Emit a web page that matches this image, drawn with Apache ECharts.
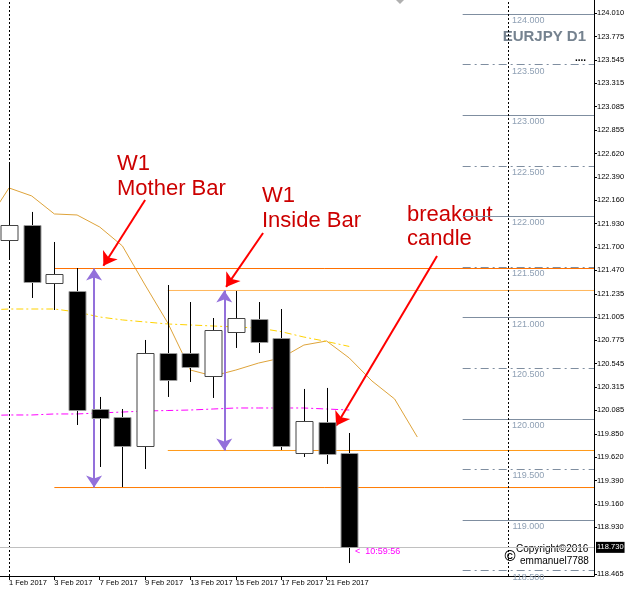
<!DOCTYPE html>
<html>
<head>
<meta charset="utf-8">
<script src="https://cdn.jsdelivr.net/npm/echarts@6/dist/echarts.min.js"></script>
<style>
  html, body { margin: 0; padding: 0; background: #fff; overflow: hidden; }
  #chart { width: 625px; height: 591px; }
</style>
</head>
<body>
<div id="chart"></div>
<script>
// daily candles, index 0 = 1 Feb 2017
const candleIdx = [0, 1, 2, 3, 4, 5, 6, 7, 8, 9, 10, 11, 12, 13, 14, 15]
const opens  = [121.767, 121.915, 121.342, 121.263, 120.097, 120.018, 119.731, 120.650, 120.650, 120.423, 120.858, 120.986, 120.799, 119.662, 119.969, 119.662]
const closes = [121.915, 121.352, 121.431, 120.087, 120.008, 119.731, 120.650, 120.384, 120.512, 120.878, 120.996, 120.759, 119.731, 119.978, 119.652, 118.733]
const lows   = [121.589, 121.194, 121.075, 119.939, 119.524, 119.326, 119.504, 120.216, 120.364, 120.206, 120.700, 120.650, 119.692, 119.623, 119.554, 118.575]
const highs  = [122.528, 122.044, 121.747, 121.490, 120.216, 120.097, 120.779, 121.322, 121.154, 120.996, 121.263, 121.154, 121.085, 120.295, 120.305, 119.860]

// moving averages (index -1 .. n)
const maTanIdx = [-1, 0, 1, 2, 3, 4, 5, 6, 7, 8, 9, 10, 11, 12, 13, 14, 15, 16, 17, 18]
const maTan = [121.935, 122.281, 122.202, 122.024, 122.014, 121.895, 121.708, 121.322, 120.947, 120.482, 120.423, 120.482, 120.551, 120.601, 120.729, 120.769, 120.601, 120.374, 120.196, 119.820]
const maIdx = [-1, 0, 1, 2, 3, 4, 5, 6, 7, 8, 9, 10, 11, 12, 13, 14, 15]
const maGold = [121.075, 121.085, 121.085, 121.085, 121.055, 121.006, 120.977, 120.957, 120.937, 120.927, 120.917, 120.907, 120.897, 120.861, 120.808, 120.764, 120.715]
const maPink = [120.033, 120.038, 120.038, 120.048, 120.048, 120.058, 120.067, 120.077, 120.082, 120.087, 120.097, 120.107, 120.107, 120.107, 120.107, 120.097, 120.087]

// weekly mother / inside bar levels
const motherHigh = 121.485
const motherLow = 119.321
const insideHigh = 121.268
const insideLow = 119.687
const motherStart = 2
const insideStart = 7
const currentPrice = 118.730

const roundLevels = [124.0, 123.5, 123.0, 122.5, 122.0, 121.5, 121.0, 120.5, 120.0, 119.5, 119.0, 118.5]
const priceTicks = [124.010, 123.775, 123.545, 123.315, 123.085, 122.855, 122.620, 122.390, 122.160, 121.930, 121.700, 121.470, 121.235, 121.005, 120.775, 120.545, 120.315, 120.085, 119.850, 119.620, 119.390, 119.160, 118.930, 118.465]
const dateTickIdx = [0, 2, 4, 6, 8, 10, 12, 14]
const dateLabels = ['1 Feb 2017', '3 Feb 2017', '7 Feb 2017', '9 Feb 2017', '13 Feb 2017', '15 Feb 2017', '17 Feb 2017', '21 Feb 2017']
const separatorIdx = [0, 22]

const X_MIN = -0.397
const X_MAX = 25.79
const sans = "'Liberation Sans', Arial, sans-serif"

const candleData = candleIdx.map((i, k) => [i, opens[k], closes[k], lows[k], highs[k]])

function renderCandle(params, api) {
  const i = api.value(0), o = api.value(1), c = api.value(2), l = api.value(3), h = api.value(4)
  const top = api.coord([i, Math.max(o, c)])
  const bot = api.coord([i, Math.min(o, c)])
  const hi = api.coord([i, h])
  const lo = api.coord([i, l])
  const w = Math.round(api.size([1, 0])[0] * 0.74)
  const cx = Math.round(top[0]) + 0.5
  const bull = c >= o
  const y1 = Math.round(top[1]) + 0.5
  const y2 = Math.round(bot[1]) + 0.5
  return {
    type: 'group',
    children: [
      { type: 'line', shape: { x1: cx, y1: hi[1], x2: cx, y2: lo[1] }, style: { stroke: '#000', lineWidth: 1 } },
      {
        type: 'rect',
        shape: { x: Math.round(cx - w / 2), y: y1, width: w, height: Math.max(1, y2 - y1) },
        style: { fill: bull ? '#fff' : '#000', stroke: bull ? '#444' : '#9a9a9a', lineWidth: 1 }
      }
    ]
  }
}

// weekly level as a plain two-point line series
function levelSeries(name, from, value, color) {
  return {
    name: name, type: 'line', data: [[from, value], [X_MAX, value]],
    symbol: 'none', silent: true, z: 4,
    lineStyle: { color: color, width: 1, type: 'solid' }
  }
}

const roundLines = roundLevels.map(v => [
  {
    coord: [20, v],
    lineStyle: { color: '#7f8ea0', width: 1, type: (v % 1 === 0) ? 'solid' : [8, 4, 2, 4] },
    label: {
      show: true, position: 'insideMiddleBottom', distance: 2,
      formatter: v.toFixed(3), color: '#8fa0b4', fontSize: 9, fontFamily: sans
    }
  },
  { coord: [X_MAX, v] }
])

const separators = separatorIdx.map(i => ({ xAxis: i, lineStyle: { color: '#000', type: [2, 2], width: 1 } }))

const redArrow = (x1, y1, x2, y2) => [
  { coord: [x1, y1], symbol: 'none', lineStyle: { color: '#ff0000', width: 2, type: 'solid' } },
  { coord: [x2, y2], symbol: 'arrow', symbolSize: 13 }
]
const purpleArrow = (x, y1, y2) => [
  { coord: [x, y1], symbol: 'arrow', symbolSize: 12, lineStyle: { color: '#9370db', width: 2, type: 'solid' } },
  { coord: [x, y2], symbol: 'arrow', symbolSize: 12 }
]

const chart = echarts.init(document.getElementById('chart'))
chart.setOption({
  animation: false,
  backgroundColor: '#fff',
  grid: { left: 0, top: 0, right: 31, bottom: 15, outerBoundsMode: 'none', containLabel: false },
  xAxis: {
    type: 'value', min: X_MIN, max: X_MAX,
    splitLine: { show: false },
    axisLine: { onZero: false, lineStyle: { color: '#000', width: 1 } },
    axisTick: { show: true, customValues: dateTickIdx, length: 4, lineStyle: { color: '#000' } },
    axisLabel: {
      customValues: dateTickIdx, align: 'left', margin: 3,
      color: '#000', fontSize: 7.5, fontFamily: sans,
      formatter: v => dateLabels[dateTickIdx.indexOf(v)] || ''
    }
  },
  yAxis: {
    type: 'value', position: 'right', min: 118.447, max: 124.138,
    splitLine: { show: false },
    axisLine: { show: true, onZero: false, lineStyle: { color: '#000', width: 1 } },
    axisTick: { show: true, customValues: priceTicks, length: 3, lineStyle: { color: '#000' } },
    axisLabel: {
      customValues: priceTicks, margin: 3,
      color: '#000', fontSize: 7.5, fontFamily: sans,
      formatter: v => v.toFixed(3)
    }
  },
  series: [
    {
      name: 'levels', type: 'line', data: [], silent: true,
      markLine: {
        silent: true, symbol: 'none', animation: false,
        label: { show: false },
        data: [
          ...roundLines,
          ...separators,
          {
            yAxis: currentPrice,
            lineStyle: { color: '#c0c0c0', type: 'solid', width: 1 },
            label: {
              show: true, position: 'end', distance: 2,
              formatter: currentPrice.toFixed(3),
              color: '#fff', backgroundColor: '#000', padding: [2, 1, 1, 1],
              fontSize: 7.5, fontFamily: sans
            }
          }
        ]
      }
    },
    levelSeries('mother high', motherStart, motherHigh, '#ff7000'),
    levelSeries('inside high', insideStart, insideHigh, '#ffb65c'),
    levelSeries('inside low', insideStart, insideLow, '#ff9a1a'),
    levelSeries('mother low', motherStart, motherLow, '#ff7a00'),
    {
      name: 'MA tan', type: 'line', data: maTanIdx.map((i, k) => [i, maTan[k]]),
      symbol: 'none', lineStyle: { color: '#dea33a', width: 1 }, clip: true
    },
    {
      name: 'MA gold', type: 'line', data: maIdx.map((i, k) => [i, maGold[k]]),
      symbol: 'none', lineStyle: { color: '#ffd200', width: 1, type: [7, 3, 2, 3] }, clip: true
    },
    {
      name: 'MA pink', type: 'line', data: maIdx.map((i, k) => [i, maPink[k]]),
      symbol: 'none', lineStyle: { color: '#ff00ff', width: 1, type: [7, 3, 2, 3] }, clip: true
    },
    {
      name: 'candles', type: 'custom', renderItem: renderCandle,
      data: candleData, encode: { x: 0, y: [1, 2, 3, 4] }, z: 5
    },
    {
      name: 'arrows', type: 'line', data: [], silent: true, z: 6,
      markLine: {
        silent: true, animation: false, label: { show: false },
        data: [
          purpleArrow(3.75, motherHigh, motherLow),
          purpleArrow(9.49, insideHigh, insideLow),
          redArrow(6.0, 122.162, 4.16, 121.513),
          redArrow(11.2, 121.836, 9.57, 121.303),
          redArrow(18.87, 121.609, 14.42, 119.932)
        ]
      }
    }
  ],
  graphic: [
    { type: 'polygon', shape: { points: [[396, 0], [404, 0], [400, 4]] }, style: { fill: '#b0b0b0' } },
    { type: 'text', x: 117, y: 164, style: { text: 'W1', font: '22px ' + sans, fill: '#cc0000', verticalAlign: 'middle' } },
    { type: 'text', x: 117, y: 189, style: { text: 'Mother Bar', font: '22px ' + sans, fill: '#cc0000', verticalAlign: 'middle' } },
    { type: 'text', x: 262, y: 196, style: { text: 'W1', font: '22px ' + sans, fill: '#cc0000', verticalAlign: 'middle' } },
    { type: 'text', x: 262, y: 221, style: { text: 'Inside Bar', font: '22px ' + sans, fill: '#cc0000', verticalAlign: 'middle' } },
    { type: 'text', x: 407, y: 215, style: { text: 'breakout', font: '22px ' + sans, fill: '#cc0000', verticalAlign: 'middle' } },
    { type: 'text', x: 407, y: 239, style: { text: 'candle', font: '22px ' + sans, fill: '#cc0000', verticalAlign: 'middle' } },
    { type: 'text', x: 586, y: 37, style: { text: 'EURJPY D1', font: 'bold 15px ' + sans, fill: '#75828f', align: 'right', verticalAlign: 'middle' } },
    { type: 'text', x: 586, y: 58, style: { text: '....', font: 'bold 10px ' + sans, fill: '#000', align: 'right', verticalAlign: 'middle' } },
    { type: 'text', x: 355, y: 552, style: { text: '<  10:59:56', font: '9px ' + sans, fill: '#ff00ff', verticalAlign: 'middle' } },
    { type: 'text', x: 510, y: 557, style: { text: '©', font: 'bold 15px ' + sans, fill: '#000', align: 'center', verticalAlign: 'middle' } },
    { type: 'text', x: 516, y: 549, style: { text: 'Copyright©2016', font: '10px ' + sans, fill: '#000', verticalAlign: 'middle' } },
    { type: 'text', x: 520, y: 561, style: { text: 'emmanuel7788', font: '10px ' + sans, fill: '#000', verticalAlign: 'middle' } }
  ]
})
</script>
</body>
</html>
